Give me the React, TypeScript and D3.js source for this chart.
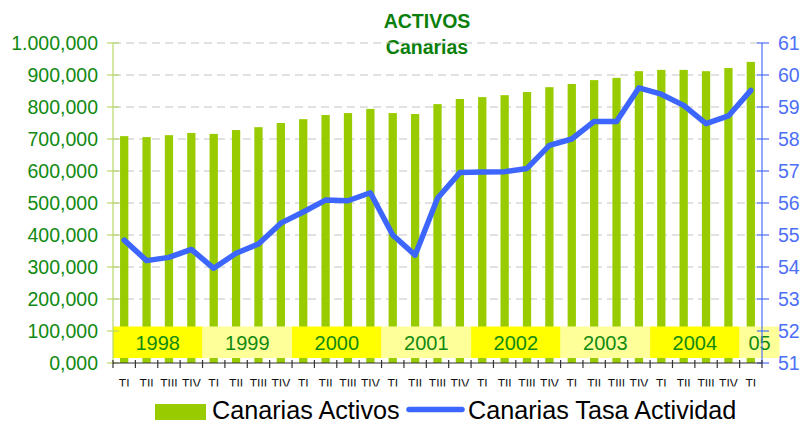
import React from "react";
import * as d3 from "d3";

const quarters = [
  "TI","TII","TIII","TIV","TI","TII","TIII","TIV","TI","TII","TIII","TIV",
  "TI","TII","TIII","TIV","TI","TII","TIII","TIV","TI","TII","TIII","TIV",
  "TI","TII","TIII","TIV","TI",
];
const years = ["1998","1999","2000","2001","2002","2003","2004","05"];
const yearQuarterCounts = [4,4,4,4,4,4,4,1];
const activos = [
  709000, 706000, 712000, 719000, 716000, 728000, 737000, 750000,
  762000, 775000, 781000, 794000, 781000, 778000, 809000, 825000,
  831000, 837000, 847000, 862000, 872000, 884000, 891000, 912000,
  916000, 916000, 912000, 922000, 941000,
];
const tasa = [
  54.84, 54.2, 54.3, 54.55, 53.96, 54.43, 54.72, 55.37,
  55.72, 56.09, 56.07, 56.32, 55.0, 54.37, 56.15, 56.95,
  56.97, 56.98, 57.08, 57.8, 58.0, 58.55, 58.55, 59.6,
  59.4, 59.05, 58.48, 58.72, 59.52,
];
const leftTicks = [0,100000,200000,300000,400000,500000,600000,700000,800000,900000,1000000];
const leftTickLabels = ["0,000","100,000","200,000","300,000","400,000","500,000","600,000","700,000","800,000","900,000","1.000,000"];
const rightTicks = [51,52,53,54,55,56,57,58,59,60,61];
const titleLines = ["ACTIVOS","Canarias"];
const legendLabels = ["Canarias Activos","Canarias Tasa Actividad"];

const FONT = "'Liberation Sans', Arial, sans-serif";
const BAR = "#99cc00";
const LINE = "#3d66ff";
const GREEN = "#118a11";
const BLUE = "#4d6ef7";

export default function App() {
  const left = 113, right = 762, top = 43, bottom = 363;
  const idx = quarters.map((_, i) => String(i));
  const x = d3.scaleBand<string>().domain(idx).range([left, right]).paddingInner(0.63).paddingOuter(0.315);
  const step = x.step();
  const yL = d3.scaleLinear().domain([0, 1000000]).range([bottom, top]);
  const yR = d3.scaleLinear().domain([51, 61]).range([bottom, top]);
  const line = d3.line<number>()
    .x((_, i) => (x(String(i)) as number) + x.bandwidth() / 2)
    .y((d) => yR(d));

  const edges = d3.range(quarters.length + 1).map((i) => left + i * step);

  let acc = 0;
  const yearBoxes = years.map((yr, k) => {
    const start = acc;
    acc += yearQuarterCounts[k];
    const x0 = left + start * step;
    let x1 = left + acc * step;
    if (yearQuarterCounts[k] < 4) x1 = x0 + 40;
    return { yr, x0, x1, fill: k % 2 === 0 ? "#ffff00" : "#ffff99" };
  });

  return (
    <svg width={800} height={426} style={{ position: "absolute", left: 0, top: 0, background: "#fff" }} fontFamily={FONT}>
      <defs>
        <clipPath id="xlab">
          <rect x={0} y={370} width={800} height={16.5} />
        </clipPath>
      </defs>
      {titleLines.map((t, i) => (
        <text key={t} x={427} y={28 + i * 26} textAnchor="middle" fontWeight="bold" fontSize={19.5} fill="#0b7f0b">{t}</text>
      ))}
      {leftTicks.slice(1).map((v) => (
        <line key={v} x1={left} x2={right} y1={yL(v)} y2={yL(v)} stroke="#c4c4c4" strokeWidth={1} strokeDasharray="8,5" />
      ))}
      {activos.map((v, i) => (
        <rect key={i} x={x(String(i))} y={yL(v)} width={x.bandwidth()} height={bottom - yL(v)} fill={BAR} />
      ))}
      {yearBoxes.map((b) => (
        <g key={b.yr}>
          <rect x={b.x0} y={326.5} width={b.x1 - b.x0} height={31.5} fill={b.fill} />
          <text x={(b.x0 + b.x1) / 2} y={349.5} textAnchor="middle" fontSize={20} fill={GREEN}>{b.yr}</text>
        </g>
      ))}
      <line x1={left} x2={left} y1={top} y2={bottom} stroke="#b8d86a" strokeWidth={1.2} />
      {leftTicks.map((v, i) => (
        <g key={v}>
          <line x1={107} x2={119} y1={yL(v)} y2={yL(v)} stroke="#b8d86a" strokeWidth={1.2} />
          <text x={98} y={yL(v)} dy="0.36em" textAnchor="end" fontSize={19.5} fill={GREEN}>{leftTickLabels[i]}</text>
        </g>
      ))}
      <line x1={right} x2={right} y1={top} y2={bottom} stroke={BLUE} strokeWidth={1.2} />
      {rightTicks.map((v) => (
        <g key={v}>
          <line x1={757} x2={769} y1={yR(v)} y2={yR(v)} stroke={BLUE} strokeWidth={1.2} />
          <text x={778} y={yR(v)} dy="0.36em" textAnchor="start" fontSize={19.5} fill={BLUE}>{v}</text>
        </g>
      ))}
      <line x1={left} x2={right} y1={bottom} y2={bottom} stroke="#333" strokeWidth={1.2} />
      {edges.map((e, i) => (
        <line key={i} x1={e} x2={e} y1={360} y2={368} stroke="#333" strokeWidth={1.2} />
      ))}
      <g clipPath="url(#xlab)">
        {quarters.map((q, i) => (
          <text key={i} x={(x(String(i)) as number) + x.bandwidth() / 2} y={387.5} textAnchor="middle" fontSize={12} fill="#111">{q}</text>
        ))}
      </g>
      <path d={line(tasa) || ""} fill="none" stroke={LINE} strokeWidth={5.5} strokeLinejoin="round" strokeLinecap="round" />
      <rect x={155} y={404} width={51} height={16} fill={BAR} />
      <text x={212} y={419} fontSize={25.2} fill="#000">{legendLabels[0]}</text>
      <line x1={409} x2={462} y1={409.5} y2={409.5} stroke={LINE} strokeWidth={5.5} strokeLinecap="round" />
      <text x={468} y={419} fontSize={25.2} fill="#000">{legendLabels[1]}</text>
    </svg>
  );
}
